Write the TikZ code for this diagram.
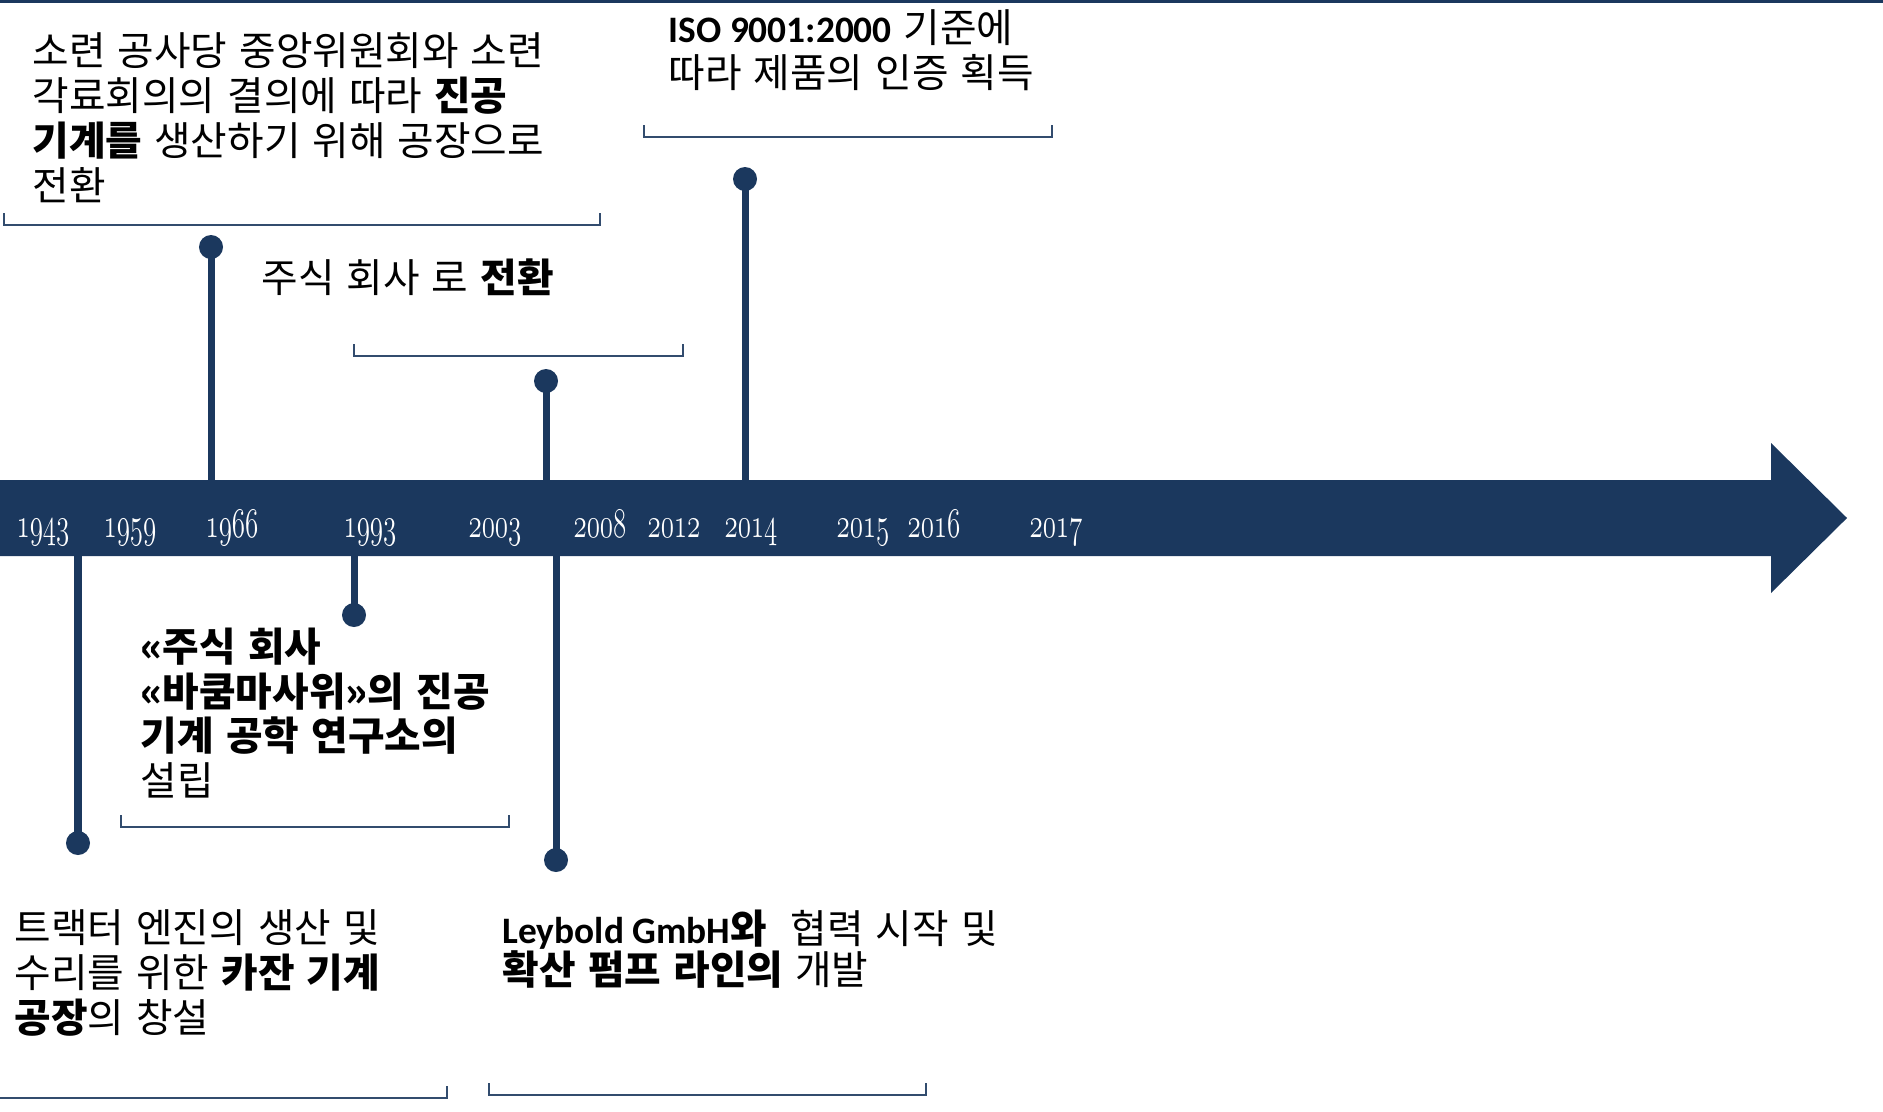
\documentclass[tikz,border=0pt]{standalone}
\usepackage{fontspec}
\newfontfamily\kr[WordSpace=1.35]{Noto Sans CJK KR}
\newfontfamily\lat[Scale=0.94]{Carlito}
\usetikzlibrary{calc}
\definecolor{navy}{RGB}{27,56,94}
\def\yr#1{\scalebox{0.64}[1]{\fontsize{13pt}{13pt}\usefont{OML}{cmm}{m}{it}#1}}

\begin{document}
\begin{tikzpicture}[x=0.01cm, y=-0.01cm,
		stem/.style={line width=0.7mm, color=navy},
		dot/.style={circle, fill=navy, inner sep=0pt, minimum size=2.4mm},
		bracket/.style={line width=0.2mm, color=navy!90},
		year/.style={anchor=base, inner sep=0pt, text=white},
		note/.style={anchor=north west, inner sep=0pt, align=left, font=\kr\fontsize{11.3pt}{12.75pt}\selectfont}]
			%%%%% START %%%%%
			
			\useasboundingbox (0, 0) rectangle (1883, 1111);
			\fill[navy] (0, 0) rectangle (1883, 3);
			
			% timeline
			\fill[navy] (0, 480) -- (1771, 480) -- (1771, 443) -- (1847, 518) -- (1771, 593) -- (1771, 556) -- (0, 556) -- cycle;
			
			\node[year] (y1943) at (43, 537) {\yr{1943}};
			\node[year] (y1959) at (130, 537) {\yr{1959}};
			\node[year] (y1966) at (232, 537) {\yr{1966}};
			\node[year] (y1993) at (370, 537) {\yr{1993}};
			\node[year] (y2003) at (495, 537) {\yr{2003}};
			\node[year] (y2008) at (600, 537) {\yr{2008}};
			\node[year] (y2012) at (674, 537) {\yr{2012}};
			\node[year] (y2014) at (751, 537) {\yr{2014}};
			\node[year] (y2015) at (863, 537) {\yr{2015}};
			\node[year] (y2016) at (934, 537) {\yr{2016}};
			\node[year] (y2017) at (1056, 537) {\yr{2017}};
			
			% stems above the line
			\coordinate (b1966) at (211, 480);
			\node[dot] (d1966) at (211, 247) {};
			\draw[stem] (b1966) -- (d1966.center);
			
			\coordinate (b2003) at (546, 480);
			\node[dot] (d2003) at (546, 381) {};
			\draw[stem] (b2003) -- (d2003.center);
			
			\coordinate (b2014) at (745, 480);
			\node[dot] (d2014) at (745, 179) {};
			\draw[stem] (b2014) -- (d2014.center);
			
			% stems below the line
			\coordinate (b1943) at (78, 556);
			\node[dot] (d1943) at (78, 843) {};
			\draw[stem] (b1943) -- (d1943.center);
			
			\coordinate (b1993) at (354, 556);
			\node[dot] (d1993) at (354, 615) {};
			\draw[stem] (b1993) -- (d1993.center);
			
			\coordinate (b2008) at (556, 556);
			\node[dot] (d2008) at (556, 860) {};
			\draw[stem] (b2008) -- (d2008.center);
			
			% brackets
			\draw[bracket] (4, 213) -- (4, 225) -- (600, 225) -- (600, 213);
			\draw[bracket] (354, 344) -- (354, 356) -- (683, 356) -- (683, 344);
			\draw[bracket] (644, 125) -- (644, 137) -- (1052, 137) -- (1052, 125);
			\draw[bracket] (121, 815) -- (121, 827) -- (509, 827) -- (509, 815);
			\draw[bracket] (-2, 1098) -- (447, 1098) -- (447, 1086);
			\draw[bracket] (489, 1083) -- (489, 1095) -- (926, 1095) -- (926, 1083);
			
			% texts
			\node[note] (t1966) at (32, 32) {소련 공사당 중앙위원회와 소련\\각료회의의 결의에 따라 \textbf{진공}\\\textbf{기계를} 생산하기 위해 공장으로\\전환};
			\node[note] (t2014) at (668, 9) {\textbf{\lat ISO 9001:2000} 기준에\\따라 제품의 인증 획득};
			\node[note] (t2003) at (261, 258) {주식 회사 로 \textbf{전환}};
			\node[note] (t1993) at (140, 627) {\textbf{«주식 회사}\\\textbf{«바쿰마사위»의 진공}\\\textbf{기계 공학 연구소의}\\설립};
			\node[note] (t1943) at (14, 909) {트랙터 엔진의 생산 및\\수리를 위한 \textbf{카잔 기계}\\\textbf{공장}의 창설};
			\node[note, font=\kr\fontsize{11.3pt}{11.7pt}\selectfont] (t2008) at (502, 909) {\textbf{{\lat Leybold GmbH}와}\ \ 협력 시작 및\\\textbf{확산 펌프 라인의} 개발};
			
			%%%%% END %%%%%
\end{tikzpicture}
\end{document}
